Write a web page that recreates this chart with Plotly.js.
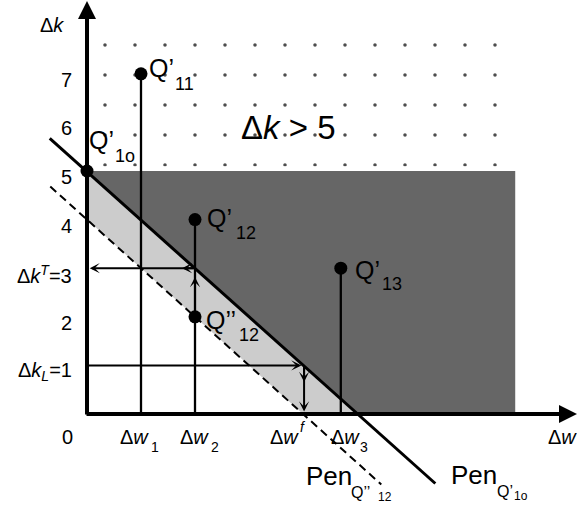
<!DOCTYPE html>
<html>
<head>
<meta charset="utf-8">
<script src="https://cdn.plot.ly/plotly-3.0.1.min.js"></script>
<style>html,body{margin:0;padding:0;background:#fff;}#chart{width:577px;height:513px;}</style>
</head>
<body>
<div id="chart"></div>
<script>
// ---------- data ----------
const pointNames = ['Q’1o', 'Q’11', 'Q’12', 'Q’’12', 'Q’13'];
const pointW = [0, 1, 2, 2, 4.7];
const pointK = [5, 7, 4, 2, 3];

const stemW = [1, 2, 4.7];
const stemK = [7, 4, 3];

const penW = [-0.69, 6.45];          // Pen Q'1o (solid)
const penK = [5.67, -1.43];
const penDashW = [-0.68, 5.45];      // Pen Q''12 (dashed)
const penDashK = [4.68, -1.45];

const darkW = [0, 7.93, 7.93, 5];    // dark region
const darkK = [5, 5, 0, 0];
const lightW = [0, 5, 4, 0];         // light band between the two pens
const lightK = [5, 0, 0, 4];
const dotW = [0.25, 7.85, 7.85, 0.25]; // dotted region Δk > 5
const dotK = [5.1, 5.1, 7.9, 7.9];

const arrowTailW = [2, 2, 2, 0, 4.02, 4.02];
const arrowTailK = [3, 3, 2, 1, 1, 1];
const arrowTipW = [0.05, 1.76, 2, 3.97, 4.02, 4.02];
const arrowTipK = [3, 3, 2.82, 1, 0.66, 0.05];

const yTickVals = [7, 6, 5, 4, 3, 2, 1];
const yTickText = ['7', '6', '5', '4', 'Δ<i>k</i><sup><i>T</i></sup>=3', '2', 'Δ<i>k</i><sub><i>L</i></sub>=1'];

// ---------- geometry of the page ----------
const W = 577, H = 513;
const X0 = 87, XS = 54, Y0 = 414, YS = 48.6;
const wx = px => (px - X0) / XS;
const ky = py => (Y0 - py) / YS;
const FONT = 'Liberation Sans, Arial, sans-serif';

function txt(text, px, py, size, xanchor) {
  return {xref: 'x', yref: 'y', x: wx(px), y: ky(py), text: text, showarrow: false,
          xanchor: xanchor || 'left', yanchor: 'middle', borderpad: 0, borderwidth: 0,
          font: {size: size, color: '#000', family: FONT}};
}
function arrow(tw, tk, aw, ak, head, width, size) {
  return {xref: 'x', yref: 'y', axref: 'x', ayref: 'y', x: tw, y: tk, ax: aw, ay: ak,
          text: '', showarrow: true, arrowhead: head, arrowwidth: width, arrowsize: size,
          arrowcolor: '#000', standoff: 0, startstandoff: 0};
}

// ---------- traces ----------
const stemX = [], stemY = [];
stemW.forEach((w, i) => { stemX.push(w, w, null); stemY.push(0, stemK[i], null); });

const traces = [
  {x: darkW, y: darkK, mode: 'lines', fill: 'toself', fillcolor: '#666666', line: {width: 0}, hoverinfo: 'skip'},
  {x: lightW, y: lightK, mode: 'lines', fill: 'toself', fillcolor: '#cccccc', line: {width: 0}, hoverinfo: 'skip'},
  {x: dotW, y: dotK, mode: 'lines', fill: 'toself', fillcolor: 'rgba(0,0,0,0)', line: {width: 0},
   fillpattern: {shape: '.', size: 30, solidity: 0.011, fgcolor: '#4d4d4d', bgcolor: 'rgba(0,0,0,0)', fillmode: 'replace'},
   hoverinfo: 'skip'},
  {x: penDashW, y: penDashK, mode: 'lines', line: {color: '#000', width: 2, dash: '8px,5px'}},
  {x: penW, y: penK, mode: 'lines', line: {color: '#000', width: 3}},
  {x: stemX, y: stemY, mode: 'lines', line: {color: '#000', width: 2.3}, connectgaps: false},
  {x: pointW, y: pointK, text: pointNames, mode: 'markers', marker: {color: '#000', size: 13}, hoverinfo: 'text'}
];

// ---------- annotations ----------
const ann = [];
// axes
ann.push(arrow(0, ky(1), 0, ky(416), 2, 4, 0.9));
ann.push(arrow(wx(577), 0, wx(85), 0, 2, 4, 0.9));
// guide arrows
for (let i = 0; i < arrowTipW.length; i++) {
  ann.push(arrow(arrowTipW[i], arrowTipK[i], arrowTailW[i], arrowTailK[i], 3, 2, 0.85));
}
// y tick labels
yTickVals.forEach((v, i) => {
  const a = txt(yTickText[i], 72, 0, 20, 'right');
  a.y = v; a.yshift = -6;
  ann.push(a);
});
ann.push(txt('0', 73, 437, 20, 'right'));
// axis titles
ann.push(txt('Δ<i>k</i>', 40, 25, 20));
ann.push(txt('Δ<i>w</i>', 548, 437, 20));
// x labels
ann.push(txt('Δ<i>w</i>', 120, 437, 20)); ann.push(txt('1', 151, 447, 14));
ann.push(txt('Δ<i>w</i>', 180, 437, 20)); ann.push(txt('2', 211, 447, 14));
ann.push(txt('Δ<i>w</i>', 270, 437, 20)); ann.push(txt('<i>f</i>', 300, 427, 14));
ann.push(txt('Δ<i>w</i>', 331, 437, 20)); ann.push(txt('3', 360, 447, 14));
// point labels
ann.push(txt('Q’', 149, 68, 25));  ann.push(txt('11', 175, 84, 18));
ann.push(txt('Q’', 89, 140, 25));  ann.push(txt('1o', 115, 156, 18));
ann.push(txt('Q’', 207, 218, 25)); ann.push(txt('12', 236, 233, 18));
ann.push(txt('Q’’', 206, 320, 25)); ann.push(txt('12', 239, 335, 18));
ann.push(txt('Q’', 355, 270, 25)); ann.push(txt('13', 382, 284, 18));
// region label
ann.push(txt('Δ<i>k</i> &gt; 5', 241, 127, 33));
// pen labels
ann.push(txt('Pen', 306, 476, 26)); ann.push(txt('Q’’', 351, 492, 16)); ann.push(txt('12', 378, 497, 12));
ann.push(txt('Pen', 451, 475, 26)); ann.push(txt('Q’', 497, 491, 16)); ann.push(txt('1o', 514, 496, 12));

const layout = {
  width: W, height: H,
  margin: {l: 0, r: 0, t: 0, b: 0, pad: 0},
  paper_bgcolor: '#fff', plot_bgcolor: '#fff',
  showlegend: false,
  font: {family: FONT, color: '#000'},
  xaxis: {range: [wx(0), wx(W)], visible: false, fixedrange: true},
  yaxis: {range: [ky(H), ky(0)], visible: false, fixedrange: true},
  annotations: ann
};

Plotly.newPlot('chart', traces, layout, {staticPlot: true, displayModeBar: false});
</script>
</body>
</html>
